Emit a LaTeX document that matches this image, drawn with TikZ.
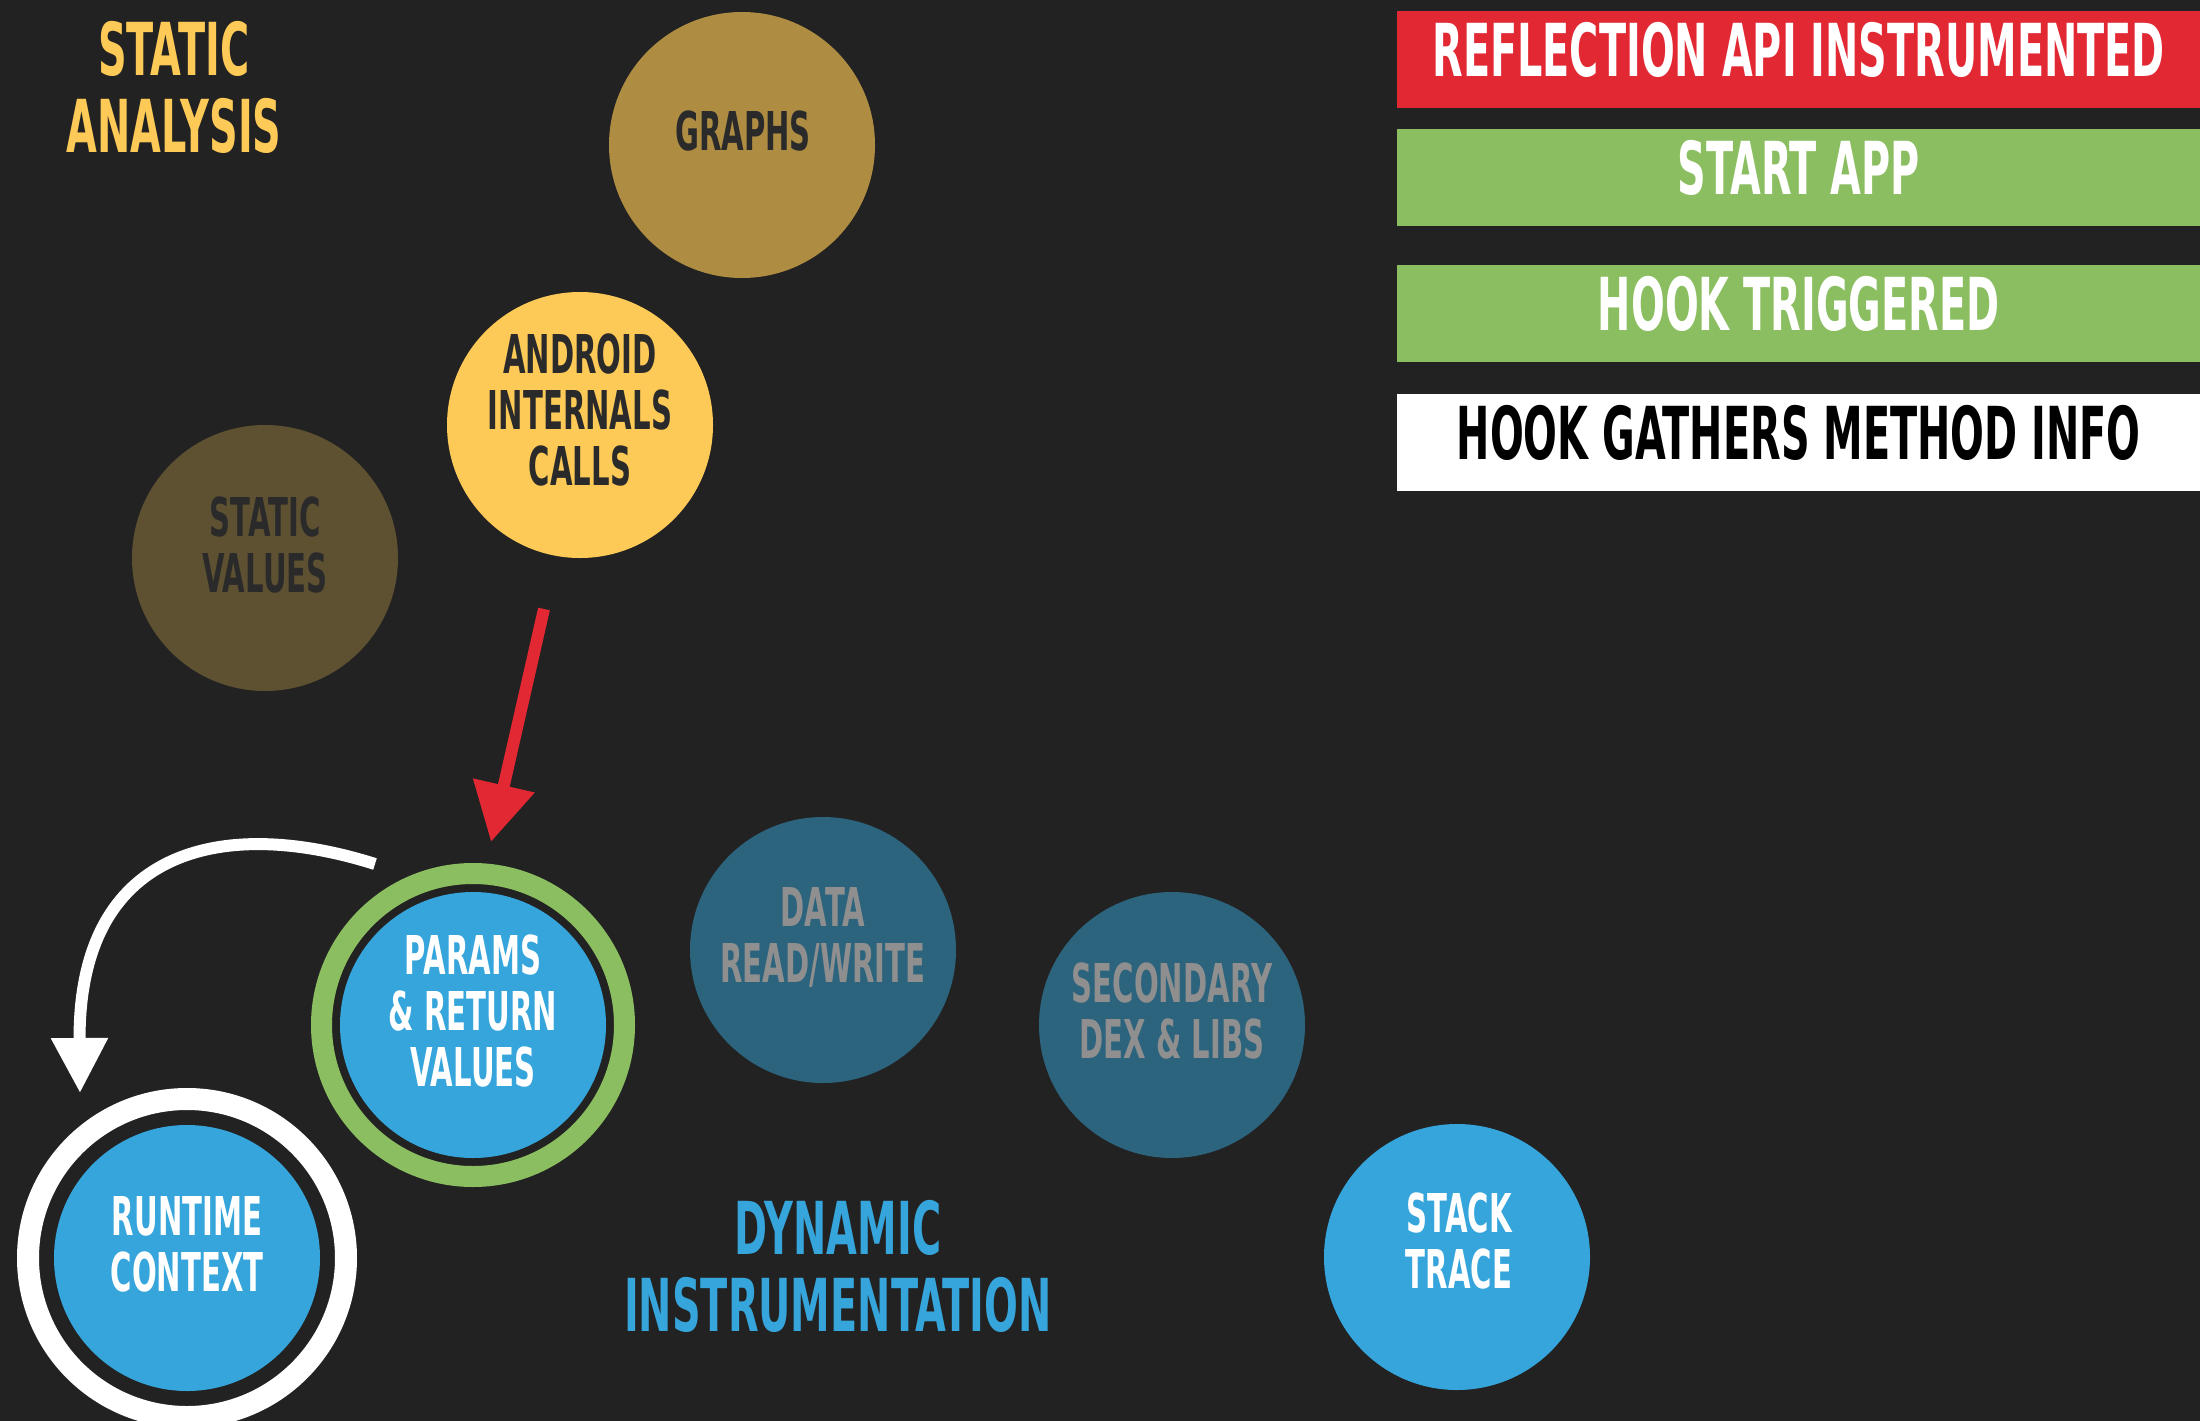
\documentclass[tikz,border=0pt]{standalone}
\usepackage{fontspec}
\newfontfamily\din{DejaVu Sans}[FakeStretch=0.545]
\usetikzlibrary{arrows.meta}
\definecolor{bg}{HTML}{222222}
\definecolor{cgold}{HTML}{AE8D43}
\definecolor{cyellow}{HTML}{FECA57}
\definecolor{colive}{HTML}{5E5131}
\definecolor{cdark}{HTML}{2A2A2A}
\definecolor{cblue}{HTML}{35A5DB}
\definecolor{cteal}{HTML}{2C637D}
\definecolor{cgray}{HTML}{8F8F8F}
\definecolor{cgreen}{HTML}{8BBE60}
\definecolor{cred}{HTML}{E22833}
\begin{document}
\begin{tikzpicture}[x=1pt,y=-1pt,
  bigtxt/.style={font=\din\bfseries\fontsize{73}{77.5}\selectfont, align=center, inner sep=0pt},
  smalltxt/.style={font=\din\bfseries\fontsize{53.5}{56}\selectfont, align=center, inner sep=0pt},
  disc/.style={circle, minimum size=266pt, inner sep=0pt, fill=#1},
  ring/.style={circle, inner sep=0pt, draw=#1},
  bar/.style={rectangle, minimum width=803pt, minimum height=97pt, inner sep=0pt, anchor=north west,
    fill=#1, font=\din\bfseries\fontsize{73}{77.5}\selectfont, text height=53pt, text depth=20pt},
  bigarrow/.style={line width=12pt}
]
\useasboundingbox (0,0) rectangle (2200,1421);
\fill[bg] (0,0) rectangle (2200,1421);

% titles
\node[bigtxt, text=cyellow] (sa) at (174,87.5) {STATIC\\ANALYSIS};
\node[bigtxt, text=cblue] (di) at (838,1266.5) {DYNAMIC\\INSTRUMENTATION};

% legend bars
\node[bar=cred, text=white] (b1) at (1397,11) {REFLECTION API INSTRUMENTED};
\node[bar=cgreen, text=white] (b2) at (1397,129) {START APP};
\node[bar=cgreen, text=white] (b3) at (1397,265) {HOOK TRIGGERED};
\node[bar=white, text=black] (b4) at (1397,394) {HOOK GATHERS METHOD INFO};

% static analysis circles
\node[disc=cgold] (graphs) at (742,145) {};
\node[smalltxt, text=cdark] (graphs-t) at (743,131) {GRAPHS};
\node[disc=cyellow] (android) at (580,425) {};
\node[smalltxt, text=cdark] (android-t) at (580,410.5) {ANDROID\\INTERNALS\\CALLS};
\node[disc=colive] (static) at (265,558) {};
\node[smalltxt, text=cdark] (static-t) at (265,545) {STATIC\\VALUES};

% dynamic circles
\node[ring=cgreen, minimum size=303pt, line width=21pt] (params-ring) at (473,1025) {};
\node[disc=cblue] (params) at (473,1025) {};
\node[smalltxt, text=white] (params-t) at (473,1011.5) {PARAMS\\\& RETURN\\VALUES};

\node[ring=white, minimum size=318pt, line width=22pt] (runtime-ring) at (187,1258) {};
\node[disc=cblue] (runtime) at (187,1258) {};
\node[smalltxt, text=white] (runtime-t) at (187,1244.5) {RUNTIME\\CONTEXT};

\node[disc=cteal] (data) at (823,950) {};
\node[smalltxt, text=cgray] (data-t) at (823,937) {DATA\\READ/WRITE};
\node[disc=cteal] (secondary) at (1172,1025) {};
\node[smalltxt, text=cgray] (secondary-t) at (1172,1011.5) {SECONDARY\\DEX \& LIBS};
\node[disc=cblue] (stack) at (1457,1257) {};
\node[smalltxt, text=white] (stack-t) at (1459,1241) {STACK\\TRACE};

% arrows
\coordinate (r1) at (544,609);
\coordinate (r2) at (491,842);
\draw[bigarrow, cred, -{Triangle[length=58pt,width=60pt]}] (r1) -- (r2);
\coordinate (w1) at (375,864);
\coordinate (w2) at (80,1093);
\draw[bigarrow, white, -{Triangle[length=55pt,width=54pt]}] (w1) .. controls (220,815) and (78,850) .. (w2);
\end{tikzpicture}
\end{document}
